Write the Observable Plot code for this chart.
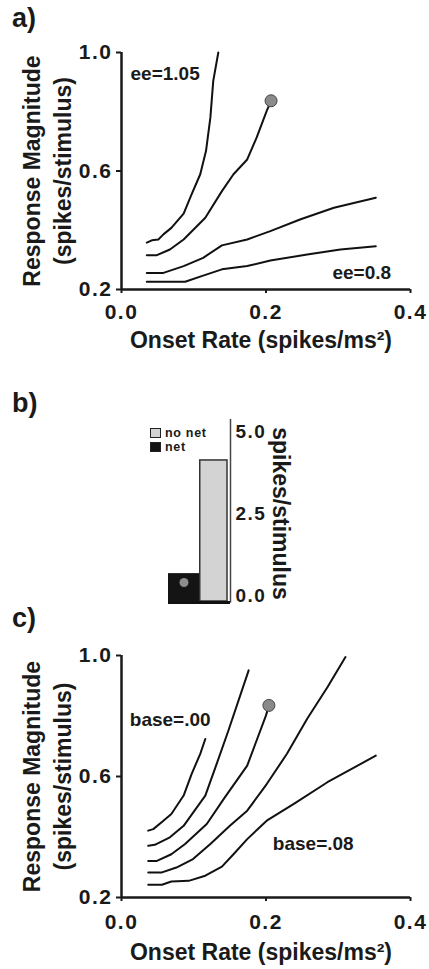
<!DOCTYPE html>
<html><head><meta charset="utf-8">
<script src="https://cdn.jsdelivr.net/npm/d3@7"></script>
<script src="https://cdn.jsdelivr.net/npm/@observablehq/plot@0.6"></script>
<style>
html,body{margin:0;padding:0;background:#fff;}
#root{position:relative;width:429px;height:969px;overflow:hidden;font-family:"Liberation Sans",Arial,sans-serif;color:#1a1a1a;}
.panel{position:absolute;left:0;}
.plab{position:absolute;left:12px;font-size:27px;font-weight:bold;line-height:27px;}
.leg{position:absolute;font-size:12.5px;font-weight:bold;line-height:12px;white-space:nowrap;letter-spacing:0.7px;}
.sw{position:absolute;box-sizing:border-box;width:11px;height:10px;}
g[aria-label$="tick label"] text{letter-spacing:1.5px;}
</style></head><body><div id="root"></div>
<script>
// ---------- data ----------
const xDomain = [0, 0.4];
const yDomain = [0.2, 1.0];
const xTicks = [0, 0.2, 0.4];
const yTicks = [0.2, 0.6, 1.0];

// panel a : ee parameter curves (top to bottom)
const a_ee105 = [[0.035,0.358],[0.042,0.366],[0.051,0.369],[0.058,0.386],[0.069,0.408],[0.086,0.456],[0.097,0.521],[0.109,0.589],[0.117,0.668],[0.123,0.780],[0.127,0.904],[0.134,1.0]];
const a_ee2 = [[0.035,0.316],[0.049,0.316],[0.067,0.335],[0.086,0.369],[0.116,0.442],[0.139,0.532],[0.155,0.589],[0.174,0.639],[0.187,0.713],[0.201,0.803],[0.207,0.837]];
const a_ee3 = [[0.035,0.256],[0.058,0.256],[0.086,0.279],[0.113,0.307],[0.139,0.349],[0.174,0.369],[0.206,0.397],[0.248,0.437],[0.294,0.476],[0.352,0.510]];
const a_ee08 = [[0.035,0.226],[0.088,0.226],[0.113,0.247],[0.139,0.268],[0.174,0.279],[0.206,0.298],[0.257,0.318],[0.303,0.335],[0.352,0.346]];
const a_dot = [[0.207,0.837]];
const a_labels = [{text:"ee=1.05", x:0.0125, y:0.929},{text:"ee=0.8", x:0.292, y:0.257}];

// panel b : bars
const barCategories = ["net", "no net"];
const barValues = [0.85, 4.3];
const barTicks = [0, 2.5, 5];
const barDotValue = 0.58;
const legendLabels = ["no net", "net"];

// panel c : base parameter curves (left to right)
const c_base00 = [[0.037,0.421],[0.044,0.426],[0.058,0.454],[0.069,0.476],[0.086,0.537],[0.097,0.608],[0.109,0.675],[0.116,0.724]];
const c_base2 = [[0.037,0.371],[0.046,0.374],[0.067,0.399],[0.086,0.437],[0.116,0.537],[0.130,0.630],[0.148,0.752],[0.176,0.951]];
const c_base3 = [[0.037,0.321],[0.049,0.321],[0.069,0.343],[0.088,0.377],[0.118,0.443],[0.143,0.531],[0.174,0.636],[0.187,0.719],[0.200,0.802],[0.204,0.835]];
const c_base4 = [[0.037,0.283],[0.056,0.283],[0.076,0.299],[0.099,0.327],[0.123,0.377],[0.150,0.437],[0.174,0.487],[0.201,0.575],[0.229,0.675],[0.257,0.791],[0.285,0.895],[0.310,0.995]];
const c_base08 = [[0.037,0.242],[0.056,0.242],[0.069,0.253],[0.093,0.255],[0.116,0.272],[0.139,0.302],[0.155,0.343],[0.174,0.393],[0.201,0.454],[0.238,0.509],[0.285,0.581],[0.352,0.669]];
const c_dot = [[0.204,0.835]];
const c_labels = [{text:"base=.00", x:0.0115, y:0.788},{text:"base=.08", x:0.2095, y:0.378}];

const yTitle1 = "Response Magnitude";
const yTitle2 = "(spikes/stimulus)";
const xTitle = "Onset Rate (spikes/ms²)";
const barTitle = "spikes/stimulus";

// ---------- rendering ----------
const FONT = '"Liberation Sans", Arial, sans-serif';
const INK = "#1a1a1a";
const root = document.getElementById("root");

function place(el, top) {
  el.classList.add("panel");
  el.style.top = top + "px";
  root.appendChild(el);
}

function curvePanel({curves, dots, labels, top, height, mt, mb, tickPad, xTitleDy}) {
  const rows = curves.flatMap((c, k) => c.map(([x, y]) => ({k, x, y})));
  const chart = Plot.plot({
    width: 429, height,
    marginLeft: 121, marginRight: 19, marginTop: mt, marginBottom: mb,
    style: {background: "transparent", fontFamily: FONT, fontWeight: "bold", color: INK, overflow: "visible"},
    x: {domain: xDomain},
    y: {domain: yDomain},
    marks: [
      Plot.axisY({ticks: yTicks, tickFormat: d3.format(".1f"), tickSize: 5, tickPadding: 4, fontSize: 21, strokeWidth: 2, label: null}),
      Plot.axisX({ticks: xTicks, tickFormat: d3.format(".1f"), tickSize: 4, tickPadding: tickPad, fontSize: 21, strokeWidth: 2, label: null}),
      Plot.ruleX([xDomain[0]], {y1: yDomain[0], y2: yDomain[1], stroke: INK, strokeWidth: 2.5}),
      Plot.ruleY([yDomain[0]], {x1: xDomain[0], x2: xDomain[1], stroke: INK, strokeWidth: 2.5}),
      Plot.line(rows, {x: "x", y: "y", z: "k", stroke: "#111", strokeWidth: 2, curve: "linear"}),
      Plot.dot(dots, {x: d => d[0], y: d => d[1], r: 6, fill: "#8a8a8a", stroke: "#444", strokeWidth: 1}),
      Plot.text(labels, {x: "x", y: "y", text: "text", textAnchor: "start", lineAnchor: "middle", fontSize: 19, fill: INK}),
      Plot.text([yTitle1], {frameAnchor: "left", rotate: -90, dx: -89, textAnchor: "middle", lineAnchor: "middle", fontSize: 23, fill: INK}),
      Plot.text([yTitle2], {frameAnchor: "left", rotate: -90, dx: -58, textAnchor: "middle", lineAnchor: "middle", fontSize: 23, fill: INK}),
      Plot.text([xTitle], {frameAnchor: "bottom", dy: xTitleDy, dx: -5, textAnchor: "middle", lineAnchor: "middle", fontSize: 23, fill: INK})
    ]
  });
  place(chart, top);
}

// panel a
curvePanel({curves: [a_ee105, a_ee2, a_ee3, a_ee08], dots: a_dot, labels: a_labels,
  top: 0, height: 370, mt: 52, mb: 81, tickPad: 11, xTitleDy: 51});

// panel b
const barData = barCategories.map((cat, i) => ({cat, value: barValues[i]}));
const barChart = Plot.plot({
  width: 429, height: 232,
  marginLeft: 168, marginRight: 199, marginTop: 62, marginBottom: 6,
  style: {background: "transparent", fontFamily: FONT, fontWeight: "bold", color: INK, overflow: "visible"},
  x: {type: "band", domain: barCategories, padding: 0, axis: null},
  y: {domain: [0, 5], axis: null},
  marks: [
    Plot.barY(barData, {filter: d => d.cat === barCategories[1], x: "cat", y: "value", fill: "#d3d3d3", stroke: "#333", strokeWidth: 1.5, insetRight: 3, insetLeft: 0.75}),
    Plot.barY(barData, {filter: d => d.cat === barCategories[0], x: "cat", y: "value", fill: "#141414"}),
    Plot.dot([{cat: barCategories[0], value: barDotValue}], {x: "cat", y: "value", r: 4.5, fill: "#8c8c8c"}),
    Plot.ruleX([barCategories[1]], {dx: 15.5, y1: -0.05, y2: 5.55, stroke: "#444", strokeWidth: 1.5}),
    Plot.ruleY([0], {stroke: "#111", strokeWidth: 3, dy: 1}),
    Plot.axisY({anchor: "right", ticks: barTicks, tickFormat: d3.format(".1f"), tickSize: 0, tickPadding: 5, fontSize: 19, dy: -6, label: null}),
    Plot.text([barTitle], {frameAnchor: "right", rotate: 90, dx: 50, dy: -6, textAnchor: "middle", lineAnchor: "middle", fontSize: 23, fill: INK})
  ]
});
place(barChart, 375);

// legend for panel b
const legendFills = {"no net": "#d3d3d3", "net": "#141414"};
legendLabels.forEach((lab, i) => {
  const sw = document.createElement("div");
  sw.className = "sw";
  sw.style.left = "150px";
  sw.style.top = (428 + i * 14) + "px";
  sw.style.background = legendFills[lab];
  sw.style.border = "1px solid #222";
  root.appendChild(sw);
  const t = document.createElement("div");
  t.className = "leg";
  t.style.left = "165px";
  t.style.top = (427 + i * 14) + "px";
  t.textContent = lab;
  root.appendChild(t);
});

// panel c
curvePanel({curves: [c_base00, c_base2, c_base3, c_base4, c_base08], dots: c_dot, labels: c_labels,
  top: 600, height: 369, mt: 55, mb: 72, tickPad: 13, xTitleDy: 55});

// panel letters
[["a)", 5], ["b)", 390], ["c)", 605]].forEach(([s, top]) => {
  const d = document.createElement("div");
  d.className = "plab";
  d.style.top = top + "px";
  d.textContent = s;
  root.appendChild(d);
});
</script></body></html>
